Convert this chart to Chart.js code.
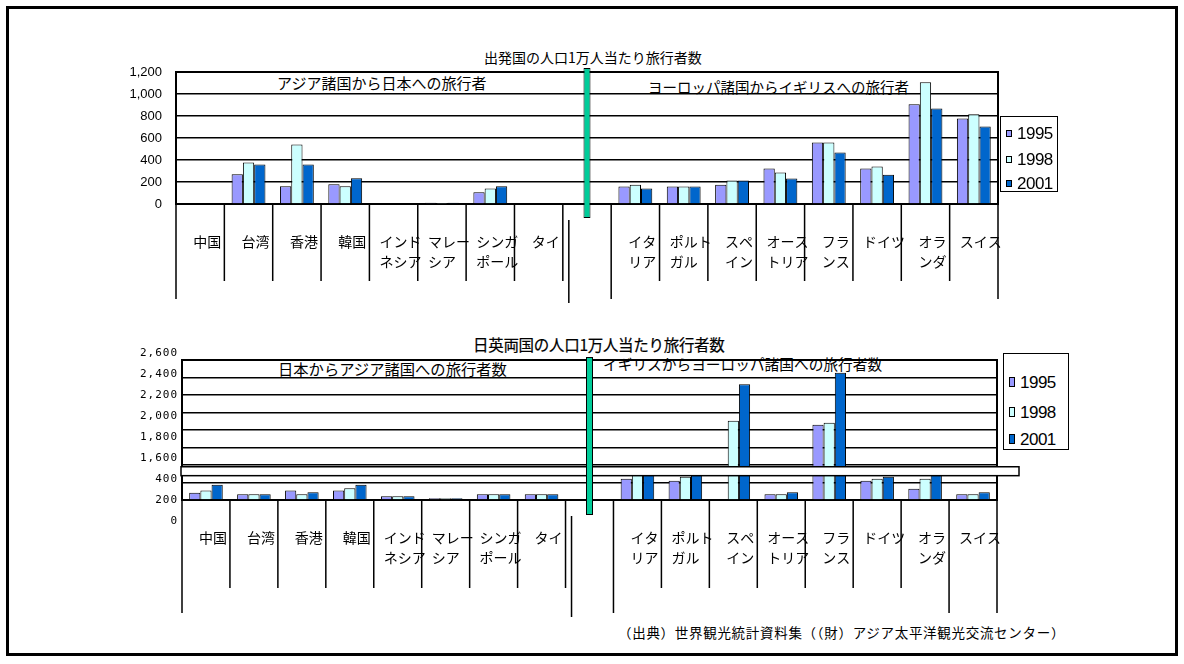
<!DOCTYPE html>
<html>
<head>
<meta charset="utf-8">
<script src="https://cdn.jsdelivr.net/npm/chart.js@4.4.1/dist/chart.umd.min.js"></script>
<style>
  body { margin: 0; width: 1184px; height: 664px; background: #fff; position: relative; overflow: hidden;
         font-family: "Noto Sans CJK JP", sans-serif; color: #000; }
  .frame { position: absolute; left: 6px; top: 6px; width: 1166px; height: 644px; border: 3px solid #000; }
  canvas { position: absolute; left: 0; }
  .t { position: absolute; white-space: nowrap; line-height: 1; }
  .legend { position: absolute; border: 1.5px solid #000; background: #fff; box-sizing: border-box; }
  .legend .mk { position: absolute; border: 1px solid #000; box-sizing: border-box; }
  .legend .lb { position: absolute; font-family: "Liberation Sans", Arial, sans-serif; font-size: 17px;
                line-height: 1; letter-spacing: -0.5px; }
</style>
</head>
<body>
<div class="frame"></div>

<div class="t" style="left:484px;top:50px;font-size:14px;">出発国の人口1万人当たり旅行者数</div>
<div class="t" style="left:277px;top:75px;font-size:15px;">アジア諸国から日本への旅行者</div>
<div class="t" style="left:648px;top:80px;font-size:14.5px;">ヨーロッパ諸国からイギリスへの旅行者</div>

<div class="t" style="left:473px;top:337px;font-size:15.5px;-webkit-text-stroke:0.2px #000;letter-spacing:-0.3px;">日英両国の人口1万人当たり旅行者数</div>
<div class="t" style="left:278px;top:361px;font-size:15.3px;">日本からアジア諸国への旅行者数</div>
<div class="t" style="left:603px;top:357px;font-size:14.7px;">イギリスからヨーロッパ諸国への旅行者数</div>

<div class="t" style="left:618px;top:626px;font-size:13.5px;letter-spacing:0.7px;">（出典）世界観光統計資料集（（財）アジア太平洋観光交流センター）</div>

<canvas id="topChart" width="1184" height="320" style="top:0;"></canvas>
<canvas id="bottomChart" width="1184" height="344" style="top:320px;"></canvas>

<div class="legend" id="topLegend" style="left:1000px;top:116px;width:58px;height:76px;"></div>
<div class="legend" id="bottomLegend" style="left:1003px;top:353px;width:66px;height:97px;"></div>

<script>
// categories (index 8 is the gap between Asia and Europe)
const categories = ['中国', '台湾', '香港', '韓国', ['インド', 'ネシア'], ['マレー', 'シア'], ['シンガ', 'ポール'], 'タイ', '',
  ['イタ', 'リア'], ['ポルト', 'ガル'], ['スペ', 'イン'], ['オース', 'トリア'], ['フラ', 'ンス'], 'ドイツ', ['オラ', 'ンダ'], 'スイス'];
const years = ['1995', '1998', '2001'];
const colors = ['#9999FF', '#CCFFFF', '#0066CC'];

// travellers per 10,000 population of the departure country (to Japan / to UK)
const in1995 = [null, 270, 161, 179, null, 12, 106, null, null, 158, 158, 176, 322, 559, 322, 906, 778];
const in1998 = [null, 377, 541, 161, null, 3, 140, null, null, 176, 158, 213, 286, 559, 340, 1106, 815];
const in2001 = [null, 359, 359, 234, null, 12, 161, null, null, 140, 158, 213, 231, 468, 267, 869, 705];

// travellers per 10,000 population of Japan / UK (to Asia / to Europe)
const out1995 = [84, 65, 110, 110, 42, 19, 65, 65, null, 244, 221, null, 65, 1861, 221, 130, 65];
const out1998 = [110, 65, 65, 133, 42, 19, 65, 65, null, 330, 267, 1907, 65, 1884, 244, 244, 65];
const out2001 = [175, 65, 88, 175, 42, 19, 65, 65, null, 340, 330, 2322, 88, 2455, 267, 330, 88];

// broken axis on the lower chart: values above the break are drawn 1000 lower
const breakShift = 1000;
const breakBand = [278, 380];
const bottomTickLabels = ['0', '200', '400', '1,600', '1,800', '2,000', '2,200', '2,400', '2,600'];

const gapIndex = 8;

function shiftBroken(arr) {
  return arr.map(v => (v === null ? null : (v > breakShift + 400 ? v - breakShift : v)));
}

function barSets(series) {
  return series.map((data, i) => ({
    label: years[i],
    data: data,
    backgroundColor: colors[i],
    borderColor: '#000',
    borderWidth: 1,
    order: 0
  }));
}

function greenBar(range) {
  const data = categories.map((c, i) => (i === gapIndex ? range : null));
  return {
    label: 'sep',
    data: data,
    backgroundColor: '#00CC99',
    borderColor: '#000',
    borderWidth: 1,
    borderSkipped: false,
    grouped: false,
    maxBarThickness: 7,
    clip: false,
    order: -1
  };
}

// category boxes and labels under the plot, Excel multi-level style
function axisDecor(longAt, shortLen, longLen) {
  return {
    id: 'axisDecor',
    afterDraw(chart) {
      const { ctx, chartArea } = chart;
      const x = chart.scales.x;
      const n = categories.length;
      const step = x.getPixelForValue(1) - x.getPixelForValue(0);
      const base = chartArea.bottom;
      ctx.save();
      ctx.strokeStyle = '#000';
      ctx.lineWidth = 1.5;
      ctx.beginPath();
      for (let i = 0; i <= n; i++) {
        const px = x.getPixelForValue(i) - step / 2;
        ctx.moveTo(px, base);
        ctx.lineTo(px, base + (longAt.includes(i) ? longLen : shortLen));
      }
      const gx = x.getPixelForValue(gapIndex) - step / 2 + 6;
      ctx.moveTo(gx, base + 16);
      ctx.lineTo(gx, base + longLen + 4);
      ctx.stroke();

      ctx.font = '14px "Noto Sans CJK JP"';
      ctx.textBaseline = 'middle';
      ctx.textAlign = 'left';
      ctx.fillStyle = '#000';
      categories.forEach((c, i) => {
        const lines = Array.isArray(c) ? c : [c];
        const w = Math.max(...lines.map(l => ctx.measureText(l).width));
        const left = x.getPixelForValue(i) + 7 - w / 2;
        lines.forEach((l, k) => ctx.fillText(l, left, base + 38 + k * 20));
      });
      ctx.restore();
    }
  };
}

const plotBorder = {
  id: 'plotBorder',
  beforeDatasetsDraw(chart) {
    const { ctx, chartArea } = chart;
    ctx.save();
    ctx.strokeStyle = '#000';
    ctx.lineWidth = 2;
    ctx.strokeRect(chartArea.left, chartArea.top, chartArea.right - chartArea.left, chartArea.bottom - chartArea.top);
    ctx.restore();
  }
};

function commonOptions(yMin, yMax, yWidth, xHeight, padTop, padRight, showTicks) {
  return {
    responsive: false,
    animation: false,
    locale: 'en-US',
    layout: { padding: { left: 0, right: padRight, top: padTop, bottom: 0 } },
    plugins: { legend: { display: false }, tooltip: { enabled: false } },
    datasets: { bar: { categoryPercentage: 0.7, barPercentage: 1.0 } },
    scales: {
      x: {
        afterFit(s) { s.height = xHeight; },
        ticks: { display: false },
        grid: { display: false },
        border: { display: false }
      },
      y: {
        min: yMin,
        max: yMax,
        afterFit(s) { s.width = yWidth; },
        ticks: {
          display: showTicks,
          stepSize: 200,
          color: '#000',
          padding: 14,
          font: { family: '"Liberation Sans", Arial, sans-serif', size: 13 }
        },
        grid: { color: '#000', lineWidth: 1.5, drawTicks: false },
        border: { color: '#000', width: 1.5 }
      }
    }
  };
}

// upper chart
new Chart(document.getElementById('topChart').getContext('2d'), {
  type: 'bar',
  data: {
    labels: categories,
    datasets: [...barSets([in1995, in1998, in2001]), greenBar([-127, 1236])]
  },
  options: commonOptions(0, 1200, 176, 116, 72, 186, true),
  plugins: [plotBorder, axisDecor([0, 9, 17], 77, 95)]
});

// lower chart with broken axis
const breakBandPlugin = {
  id: 'breakBand',
  beforeDatasetDraw(chart, args) {
    if (args.index !== 3) return;
    const { ctx, chartArea } = chart;
    const y = chart.scales.y;
    const top = y.getPixelForValue(breakBand[1]);
    const bottom = y.getPixelForValue(breakBand[0]);
    ctx.save();
    ctx.fillStyle = '#fff';
    ctx.strokeStyle = '#000';
    ctx.lineWidth = 1.5;
    ctx.fillRect(chartArea.left - 1, top, chartArea.right - chartArea.left + 23, bottom - top);
    ctx.strokeRect(chartArea.left - 1, top, chartArea.right - chartArea.left + 23, bottom - top);
    ctx.restore();
  },
  afterDraw(chart) {
    const { ctx, chartArea } = chart;
    const y = chart.scales.y;
    ctx.save();
    ctx.font = '11px "DejaVu Sans Mono"';
    ctx.letterSpacing = '1px';
    ctx.textAlign = 'right';
    ctx.textBaseline = 'middle';
    ctx.fillStyle = '#000';
    // the label column is spaced 1.2x wider than the grid, as in the original
    bottomTickLabels.forEach((t, k) => {
      ctx.fillText(t, chartArea.left - 4, y.getPixelForValue(240 * (k - 1)));
    });
    ctx.restore();
  }
};

new Chart(document.getElementById('bottomChart').getContext('2d'), {
  type: 'bar',
  data: {
    labels: categories,
    datasets: [...barSets([shiftBroken(out1995), shiftBroken(out1998), shiftBroken(out2001)]), greenBar([-171, 1634])]
  },
  options: commonOptions(0, 1600, 182, 164, 40, 187, false),
  plugins: [plotBorder, breakBandPlugin, axisDecor([0, 9, 16, 17], 88, 113)]
});

// legends
function buildLegend(id, rows, mkW, mkH) {
  const box = document.getElementById(id);
  years.forEach((yr, i) => {
    const mk = document.createElement('div');
    mk.className = 'mk';
    mk.style.cssText = `left:5px;top:${rows[i] - mkH / 2}px;width:${mkW}px;height:${mkH}px;background:${colors[i]};`;
    const lb = document.createElement('div');
    lb.className = 'lb';
    lb.textContent = yr;
    lb.style.cssText = `left:16px;top:${rows[i] - 8}px;`;
    box.appendChild(mk);
    box.appendChild(lb);
  });
}
buildLegend('topLegend', [16, 42, 66], 6, 7);
buildLegend('bottomLegend', [28, 58, 85], 6, 10);
</script>
</body>
</html>
